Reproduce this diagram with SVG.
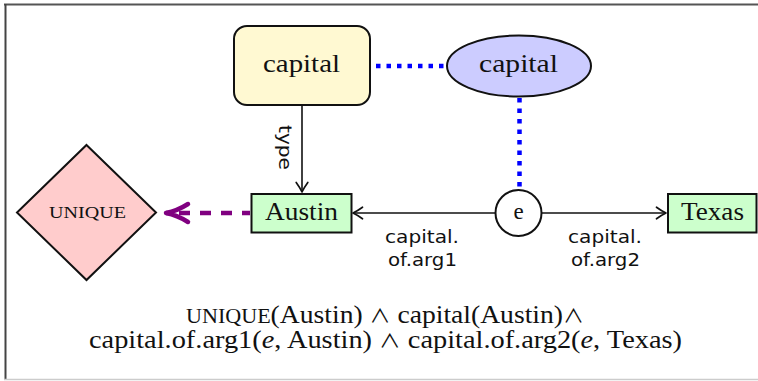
<svg xmlns="http://www.w3.org/2000/svg" width="758" height="381" viewBox="0 0 758 381">
<style>
.serif{font-family:"Liberation Serif","Times New Roman",serif;fill:#111}
.sans{font-family:"DejaVu Sans","Liberation Sans",sans-serif;fill:#111;font-size:18.5px}
.node{stroke:#111;stroke-width:2}
.arrow{stroke:#111;stroke-width:1.6;fill:none}
.blue{stroke:#0000ff;stroke-width:4.5;stroke-dasharray:4.5 6;fill:none}
.and{font-family:"Noto Sans CJK SC","DejaVu Sans",sans-serif;font-weight:400;font-size:19px}
</style>
<defs>
<marker id="ah" markerUnits="userSpaceOnUse" markerWidth="16" markerHeight="16" refX="12.5" refY="8" orient="auto">
<path d="M3,2.2 Q8.5,6.2 12.5,8 Q8.5,9.8 3,13.8" stroke="#111" stroke-width="1.7" fill="none" stroke-linecap="round" stroke-linejoin="round"/>
</marker>
<marker id="ph" markerUnits="userSpaceOnUse" markerWidth="32" markerHeight="28" refX="26" refY="14" orient="auto">
<path d="M4,5 Q15,12 26,14 Q15,16 4,23" stroke="#800080" stroke-width="4.5" fill="none" stroke-linecap="round" stroke-linejoin="round"/>
</marker>
</defs>
<rect width="758" height="381" fill="#ffffff"/>
<g id="frame">
<line x1="4" y1="4.5" x2="758" y2="4.5" stroke="#555" stroke-width="2"/>
<line x1="5.5" y1="4" x2="5.5" y2="380" stroke="#444" stroke-width="2"/>
<line x1="4" y1="379.5" x2="758" y2="379.5" stroke="#ccc" stroke-width="1.5"/>
</g>
<g id="connectors">
<line class="blue" x1="376" y1="66" x2="447" y2="66"/>
<line class="blue" x1="519.5" y1="98" x2="519.5" y2="190"/>
<line class="arrow" x1="302" y1="105" x2="302" y2="192" marker-end="url(#ah)"/>
<line class="arrow" x1="495" y1="213" x2="353" y2="213" marker-end="url(#ah)"/>
<line class="arrow" x1="542" y1="213" x2="666" y2="213" marker-end="url(#ah)"/>
<line x1="250" y1="213" x2="166" y2="213" stroke="#800080" stroke-width="4.5" stroke-dasharray="11 10" stroke-dashoffset="3" marker-end="url(#ph)"/>
<text class="sans" transform="translate(279,147.5) rotate(90)" text-anchor="middle" textLength="45" lengthAdjust="spacingAndGlyphs">type</text>
<text class="sans" x="385" y="243" textLength="74" lengthAdjust="spacingAndGlyphs">capital.</text>
<text class="sans" x="388" y="266" textLength="69" lengthAdjust="spacingAndGlyphs">of.arg1</text>
<text class="sans" x="568" y="243" textLength="74" lengthAdjust="spacingAndGlyphs">capital.</text>
<text class="sans" x="571" y="266" textLength="69" lengthAdjust="spacingAndGlyphs">of.arg2</text>
</g>
<g id="capital-type">
<rect class="node" x="234" y="26" width="136" height="79" rx="13" fill="#fff9d2"/>
<text class="serif" x="263" y="72" font-size="25" textLength="77" lengthAdjust="spacingAndGlyphs">capital</text>
</g>
<g id="capital-pred">
<ellipse class="node" cx="519" cy="66" rx="72" ry="30.5" fill="#ccccff"/>
<text class="serif" x="479" y="72" font-size="25" textLength="79" lengthAdjust="spacingAndGlyphs">capital</text>
</g>
<g id="austin">
<rect class="node" x="251.5" y="194" width="100" height="38.5" fill="#ccffcc"/>
<text class="serif" x="265" y="220" font-size="25" textLength="73" lengthAdjust="spacingAndGlyphs">Austin</text>
</g>
<g id="texas">
<rect class="node" x="668" y="194" width="88.5" height="38.5" fill="#ccffcc"/>
<text class="serif" x="681" y="220" font-size="25" textLength="63" lengthAdjust="spacingAndGlyphs">Texas</text>
</g>
<g id="event">
<circle class="node" cx="518.5" cy="213" r="23" fill="#ffffff"/>
<text class="serif" x="518.5" y="218.5" font-size="23" text-anchor="middle">e</text>
</g>
<g id="unique">
<polygon class="node" points="86.5,145 156,212.5 86.5,280 17,212.5" fill="#ffcccc"/>
<text class="serif" x="49" y="217.5" font-size="17.5" textLength="77" lengthAdjust="spacingAndGlyphs">UNIQUE</text>
</g>
<g id="formula">
<text class="serif" x="186" y="323" font-size="25" textLength="398" lengthAdjust="spacingAndGlyphs"><tspan font-size="20">UNIQUE</tspan>(Austin) <tspan class="and">∧</tspan> capital(Austin)<tspan class="and">∧</tspan></text>
<text class="serif" x="89" y="348" font-size="25" textLength="593" lengthAdjust="spacingAndGlyphs">capital.of.arg1(<tspan font-style="italic">e</tspan>, Austin) <tspan class="and">∧</tspan> capital.of.arg2(<tspan font-style="italic">e</tspan>, Texas)</text>
</g>
</svg>
